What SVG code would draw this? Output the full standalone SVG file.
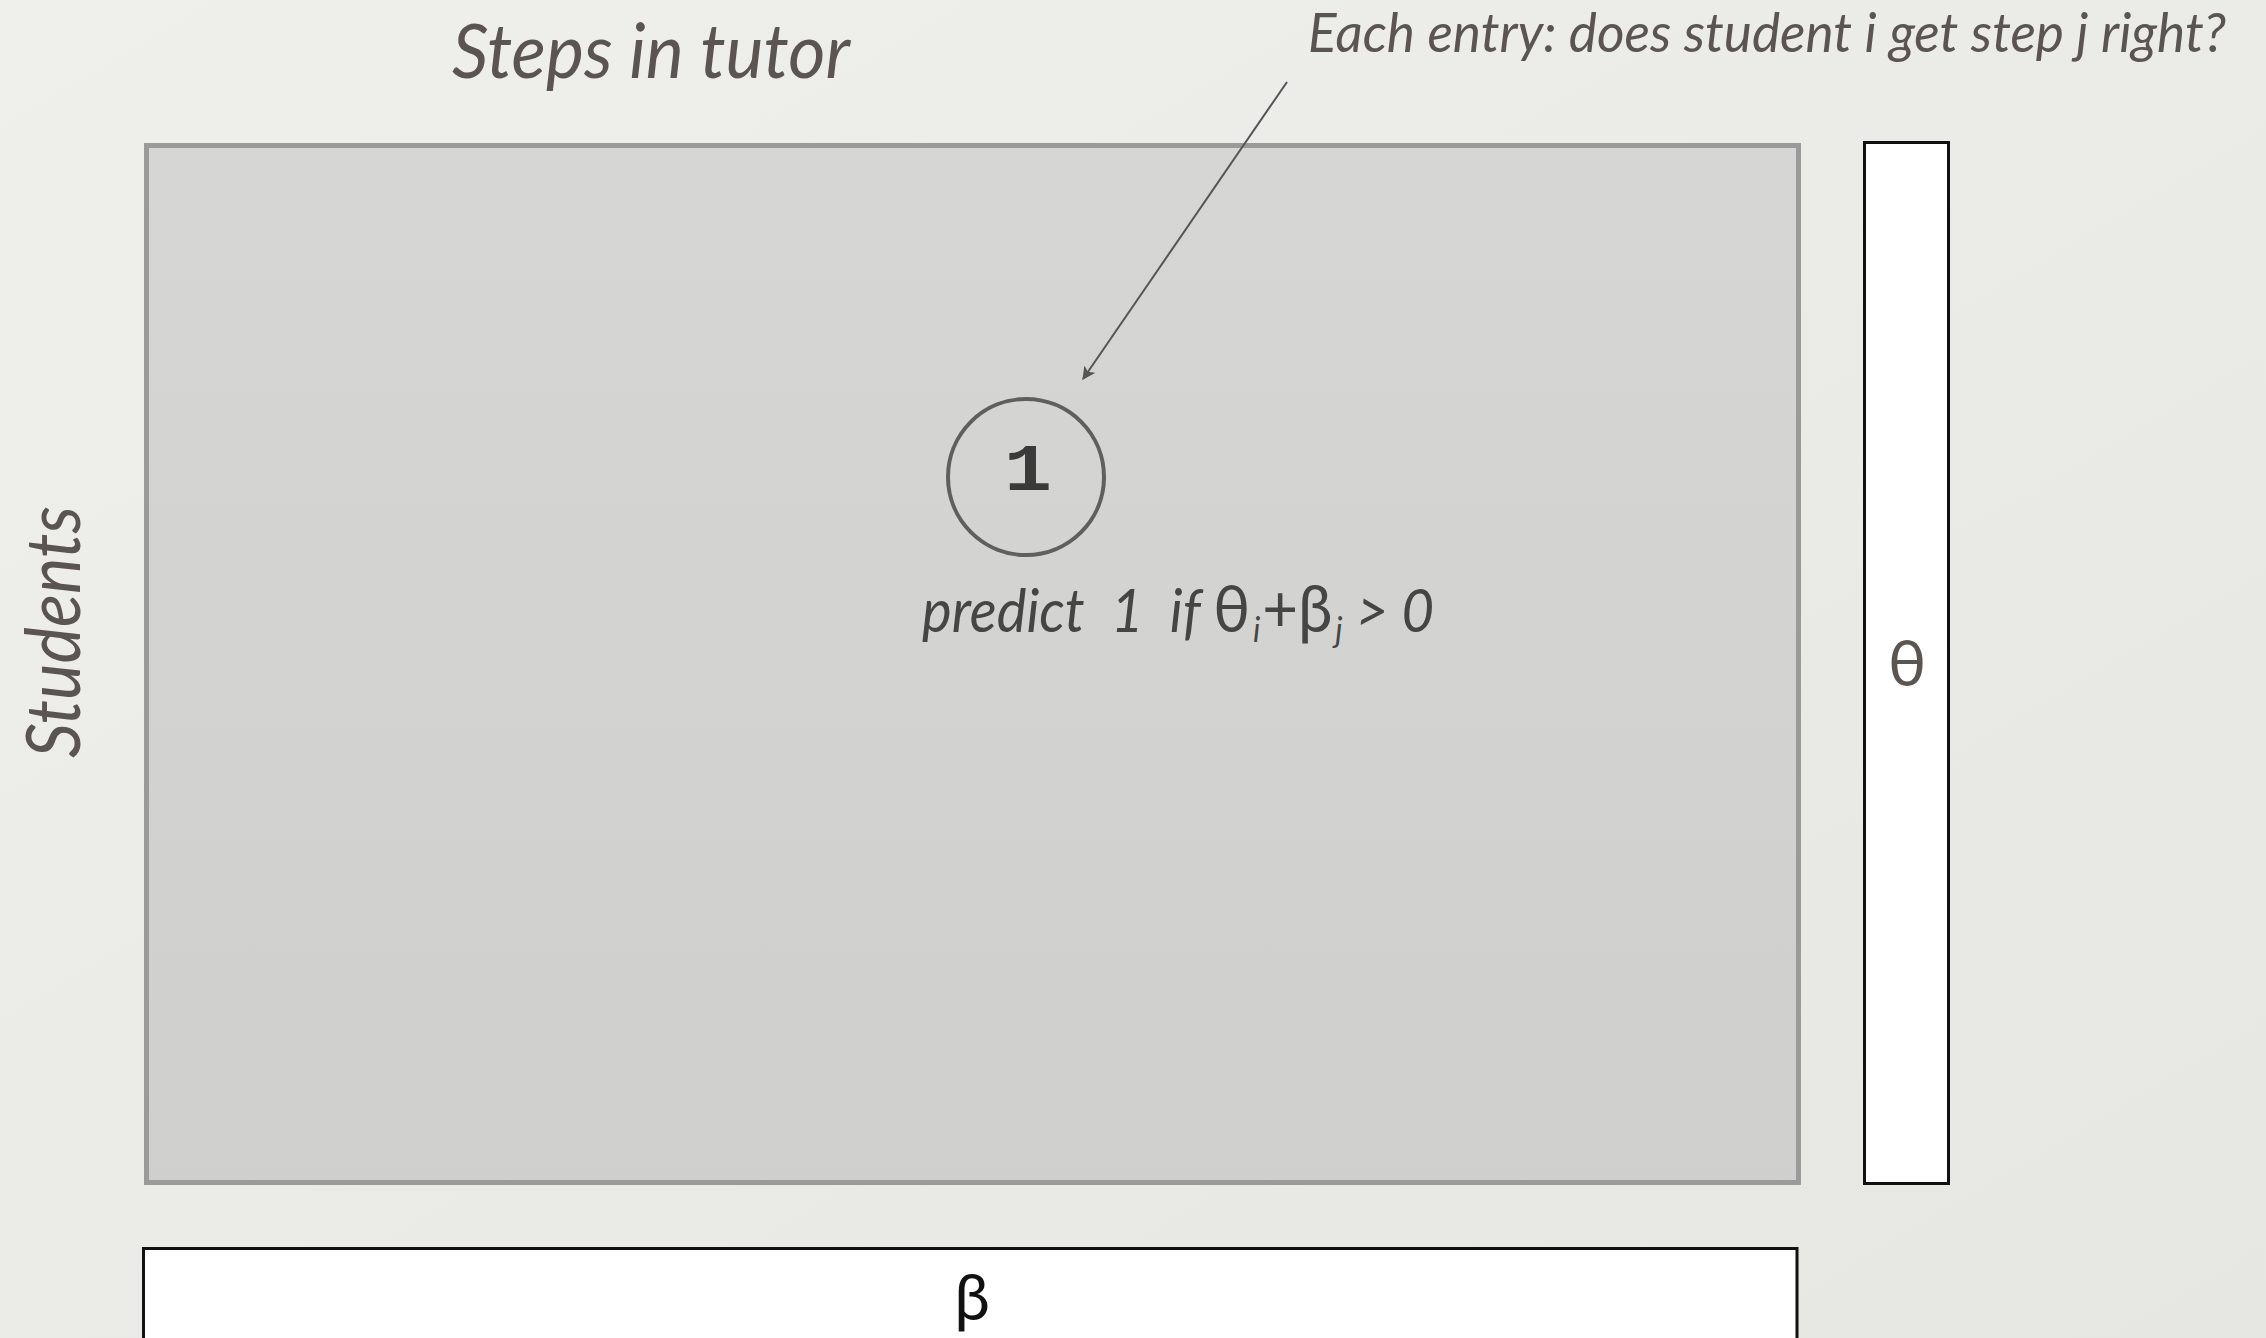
<svg xmlns="http://www.w3.org/2000/svg" width="2266" height="1338" viewBox="0 0 2266 1338">
  <defs>
    <linearGradient id="bg" x1="0" y1="0" x2="1" y2="1">
      <stop offset="0" stop-color="#efefec"/>
      <stop offset="1" stop-color="#e6e7e3"/>
    </linearGradient>
    <linearGradient id="mat" x1="0" y1="0" x2="0" y2="1">
      <stop offset="0" stop-color="#d6d6d5"/>
      <stop offset="1" stop-color="#cfcfce"/>
    </linearGradient>
    <marker id="arr" viewBox="0 0 12 12" refX="11" refY="6" markerWidth="13" markerHeight="13" markerUnits="userSpaceOnUse" orient="auto">
      <path d="M0,0 L12,6 L0,12 L3,6 Z" fill="#555"/>
    </marker>
    <style>
      .lbl { font-family: "Lato", "Open Sans", "Noto Sans", sans-serif; font-style: italic; fill: #5b5552; }
      .sym { font-family: "Lato", "Open Sans", "DejaVu Sans", sans-serif; fill: #5b5552; }
      .bar { fill: #ffffff; stroke: #111; stroke-width: 3; }
    </style>
  </defs>
  <rect x="0" y="0" width="2266" height="1338" fill="url(#bg)"/>

  <g id="matrix">
    <rect x="146.5" y="145.5" width="1652" height="1037" fill="url(#mat)" stroke="#9a9a9a" stroke-width="5"/>
  </g>

  <g id="theta-bar">
    <rect class="bar" x="1864.5" y="142.5" width="84" height="1041"/>
    <text class="sym" x="1907" y="686" font-size="64" text-anchor="middle">θ</text>
  </g>

  <g id="beta-bar">
    <rect class="bar" x="143.5" y="1248.5" width="1653.5" height="200" stroke="#000"/>
    <text class="sym" x="972" y="1320" font-size="64" text-anchor="middle" style="fill:#111">β</text>
  </g>

  <g id="title-steps">
    <text class="lbl" x="452" y="78" font-size="76" textLength="398" lengthAdjust="spacingAndGlyphs">Steps in tutor</text>
  </g>

  <g id="title-students">
    <text class="lbl" transform="translate(80,632) rotate(-90)" x="0" y="0" font-size="76" text-anchor="middle" textLength="252" lengthAdjust="spacingAndGlyphs">Students</text>
  </g>

  <g id="entry-note">
    <text class="lbl" x="1308" y="52" font-size="54" textLength="918" lengthAdjust="spacingAndGlyphs">Each entry: does student i get step j right?</text>
  </g>

  <g id="entry">
    <circle cx="1026" cy="477" r="78" fill="none" stroke="#5f5f5f" stroke-width="4"/>
    <text x="1028" y="490" font-size="66" font-weight="bold" text-anchor="middle" fill="#3a3a3a" font-family="'Liberation Mono', 'DejaVu Sans Mono', monospace" textLength="48" lengthAdjust="spacingAndGlyphs">1</text>
  </g>

  <g id="rule">
    <text class="lbl" x="922" y="632" font-size="60" style="fill:#454545; white-space:pre" xml:space="preserve" textLength="512" lengthAdjust="spacingAndGlyphs">predict  1  if <tspan font-style="normal" font-size="66">θ</tspan><tspan font-size="34" dx="3" dy="10">i</tspan><tspan font-style="normal" font-size="66" dx="2" dy="-10">+β</tspan><tspan font-size="34" dx="3" dy="10">j</tspan><tspan dy="-10"> &gt; 0</tspan></text>
  </g>

  <g id="connectors">
    <line x1="1287" y1="82" x2="1083" y2="379" stroke="#555" stroke-width="2" marker-end="url(#arr)"/>
  </g>
</svg>
